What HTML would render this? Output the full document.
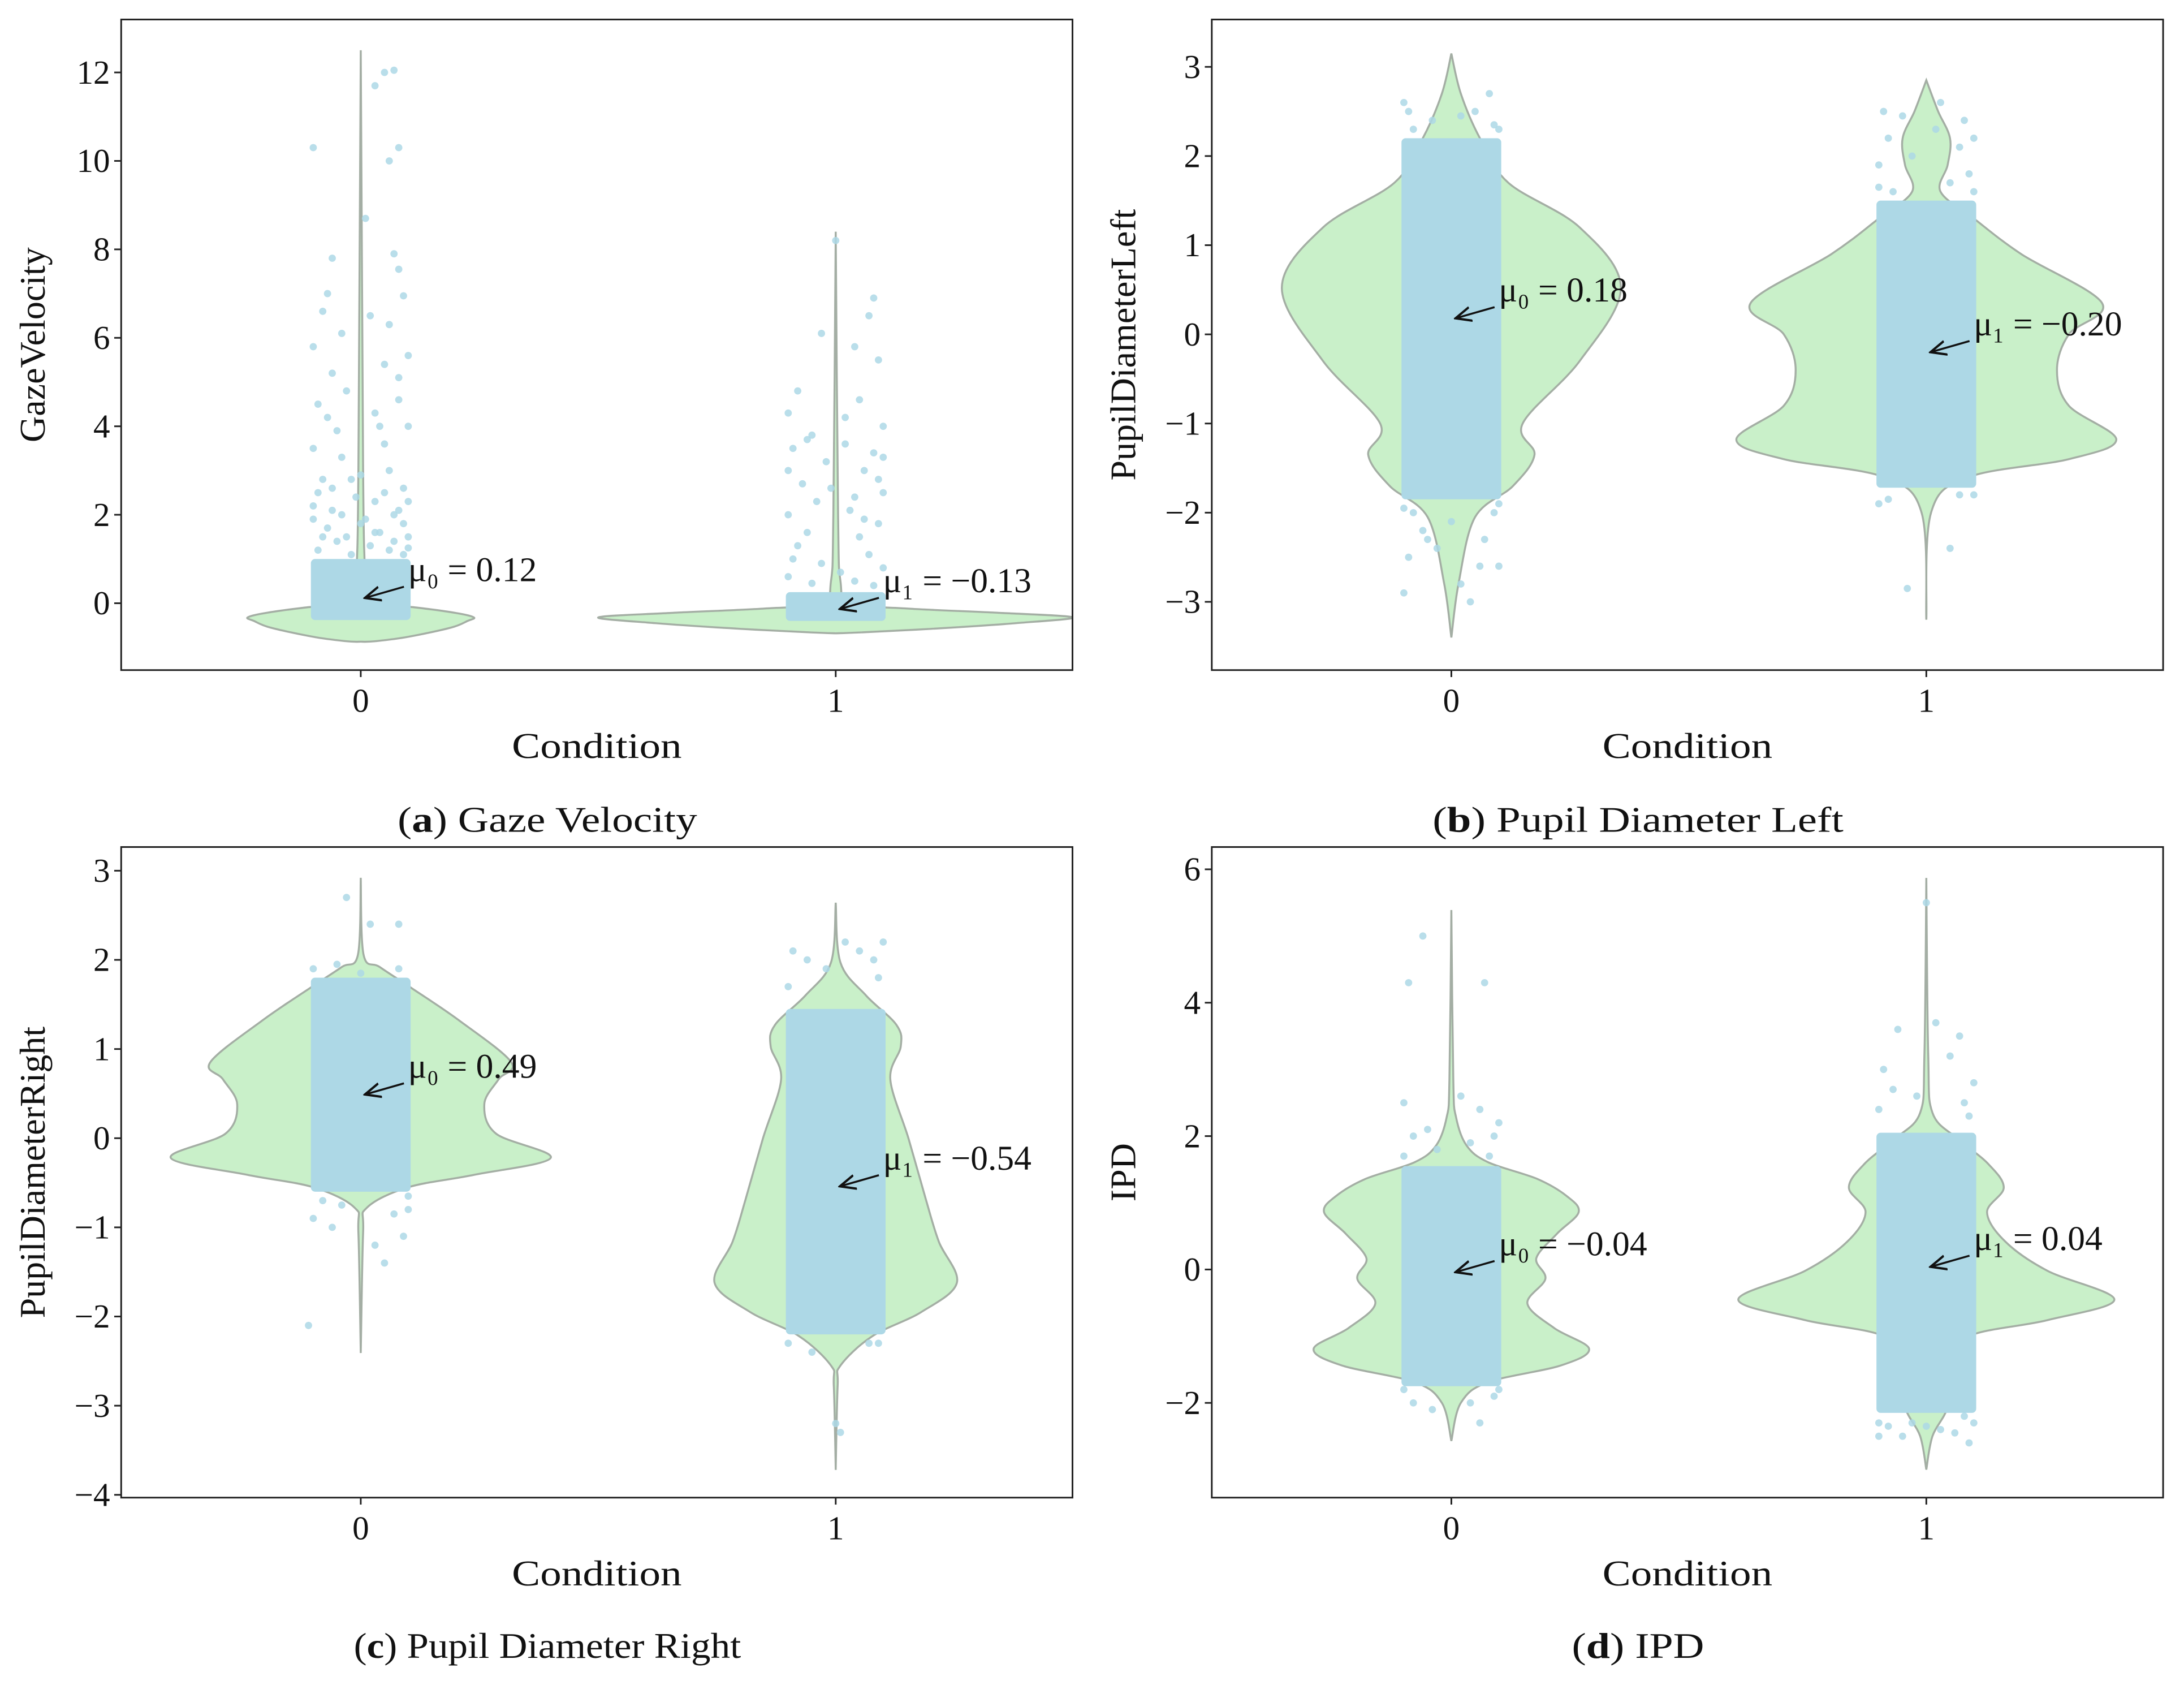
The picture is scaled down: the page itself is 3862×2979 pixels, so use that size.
<!DOCTYPE html>
<html><head><meta charset="utf-8"><style>
html,body{margin:0;padding:0;background:#fff;}
svg{display:block;font-family:"Liberation Serif",serif;}
</style></head><body>
<svg id="fig" width="3862" height="2979" viewBox="0 0 1568 1209.5" xmlns="http://www.w3.org/2000/svg"></svg>
<script>
// ---------- data ----------
const categories = ["0", "1"];
const panelNames = ["gaze-velocity", "pupil-diameter-left", "pupil-diameter-right", "ipd"];
const yLabels = ["GazeVelocity", "PupilDiameterLeft", "PupilDiameterRight", "IPD"];
const captionLetters = ["a", "b", "c", "d"];
const captionTexts = [" Gaze Velocity", " Pupil Diameter Left", " Pupil Diameter Right", " IPD"];
const yTicksA = [0, 2, 4, 6, 8, 10, 12];
const yTicksB = [-3, -2, -1, 0, 1, 2, 3];
const yTicksC = [-4, -3, -2, -1, 0, 1, 2, 3];
const yTicksD = [-2, 0, 2, 4, 6];
const meansA = [0.12, -0.13];
const meansB = [0.18, -0.20];
const meansC = [0.49, -0.54];
const meansD = [-0.04, 0.04];
// violin profiles: [value, half-width in category units]
const violinA0 = [[-0.87,0],[-0.86,0.03],[-0.76,0.1],[-0.55,0.19],[-0.4,0.225],[-0.32,0.238],[-0.22,0.2],[-0.1,0.12],[0,0.04],[0.3,0.012],[1,0.008],[3,0.005],[12.5,0]];
const violinA1 = [[-0.68,0],[-0.66,0.05],[-0.58,0.2],[-0.45,0.38],[-0.32,0.5],[-0.22,0.35],[-0.12,0.15],[0,0.03],[0.5,0.01],[2,0.005],[8.4,0]];
const violinB0 = [[-3.4,0],[-2.8,0.015],[-2.05,0.05],[-1.7,0.13],[-1.35,0.175],[-1.0,0.15],[-0.3,0.27],[0.52,0.357],[1.2,0.27],[1.7,0.12],[2.2,0.06],[2.7,0.02],[3.15,0]];
const violinB1 = [[-3.2,0],[-2.0,0.01],[-1.6,0.09],[-1.4,0.3],[-1.18,0.4],[-0.8,0.3],[-0.4,0.275],[0.0,0.3],[0.35,0.37],[0.9,0.2],[1.3,0.1],[1.6,0.03],[1.9,0.045],[2.2,0.05],[2.5,0.025],[2.85,0]];
const violinC0 = [[-2.41,0],[-1.06,0.005],[-0.78,0.013],[-0.55,0.1],[-0.41,0.24],[-0.22,0.4],[0.05,0.285],[0.38,0.26],[0.66,0.29],[0.85,0.317],[1.31,0.21],[1.69,0.105],[1.92,0.04],[2.06,0.006],[2.92,0]];
const violinC1 = [[-3.72,0],[-2.77,0.004],[-2.55,0.01],[-2.22,0.077],[-1.95,0.18],[-1.62,0.255],[-1.16,0.217],[-0.69,0.19],[0.0,0.153],[0.66,0.115],[1.03,0.137],[1.27,0.128],[1.6,0.064],[1.97,0.01],[2.64,0]];
const violinD0 = [[-2.57,0],[-2.0,0.02],[-1.69,0.077],[-1.44,0.23],[-1.19,0.29],[-0.88,0.217],[-0.51,0.16],[-0.14,0.198],[0.17,0.179],[0.54,0.223],[0.86,0.268],[1.1,0.243],[1.36,0.18],[1.61,0.077],[1.86,0.032],[2.28,0.01],[2.84,0.004],[5.39,0]];
const violinD1 = [[-3.0,0],[-2.5,0.013],[-2.07,0.045],[-1.44,0.064],[-1.0,0.09],[-0.76,0.255],[-0.45,0.396],[-0.02,0.255],[0.42,0.166],[0.86,0.128],[1.23,0.163],[1.6,0.128],[1.97,0.064],[2.35,0.013],[3.2,0.004],[5.87,0]];
// dense strip ranges [low, high]
const stripA = [[-0.38, 1.0], [-0.4, 0.25]];
const stripB = [[-1.85, 2.2], [-1.72, 1.5]];
const stripC = [[-0.6, 1.8], [-2.2, 1.45]];
const stripD = [[-1.75, 1.55], [-2.15, 2.05]];
// sparse points [jitter, value]
const pointsA0 = [[0.05,12.0],[0.03,11.7],[0.07,12.05],[-0.1,10.3],[0.08,10.3],[0.06,10.0],[0.01,8.7],[-0.06,7.8],[0.07,7.9],[0.08,7.55],[-0.07,7.0],[0.09,6.95],[0.02,6.5],[-0.08,6.6],[-0.04,6.1],[0.06,6.3],[0.1,5.6],[-0.1,5.8],[0.05,5.4],[-0.03,4.8],[0.08,4.6],[-0.09,4.5],[0.04,4.0],[-0.05,3.9],[0.1,4.0],[-0.1,3.5],[0.06,3.0],[-0.02,2.8],[0.09,2.6],[-0.08,2.8],[0.03,2.3],[-0.06,2.1],[0.07,2.0],[-0.1,2.2],[0.1,1.5],[-0.07,1.7],[0.02,1.3],[0.05,2.5],[-0.04,3.3],[0.08,5.1],[-0.06,5.2],[0.03,4.3],[-0.09,2.5],[0.1,2.3],[0.0,1.8],[-0.03,1.5],[-0.09,1.2],[0.09,1.1],[-0.05,1.4],[0.04,1.6],[0.07,1.4],[-0.02,1.1],[-0.08,1.5],[0.1,1.25],[0.0,2.9],[0.05,3.6],[-0.07,4.2],[0.08,2.1],[-0.01,2.4],[0.03,1.6],[-0.1,1.9],[0.06,1.2],[-0.04,2.0],[0.01,1.9],[-0.06,2.6],[0.09,1.8]];
const pointsA1 = [[0.0,8.2],[0.08,6.9],[0.07,6.5],[-0.03,6.1],[0.04,5.8],[0.09,5.5],[-0.08,4.8],[0.05,4.6],[-0.1,4.3],[0.1,4.0],[-0.05,3.8],[0.02,3.6],[-0.09,3.5],[0.08,3.4],[-0.02,3.2],[0.06,3.0],[-0.07,2.7],[0.1,2.5],[-0.04,2.3],[0.03,2.1],[-0.1,2.0],[0.09,1.8],[-0.06,1.6],[0.05,1.5],[-0.08,1.3],[0.07,1.1],[-0.03,0.9],[0.1,0.8],[-0.1,0.6],[0.04,0.5],[0.02,4.2],[-0.06,3.7],[0.09,2.8],[-0.01,2.6],[0.06,1.9],[-0.09,1.0],[0.08,0.4],[-0.05,0.45],[0.01,0.7],[-0.1,3.0],[0.1,3.3],[0.04,2.4]];
const pointsB0 = [[-0.1,2.6],[0.08,2.7],[0.05,2.5],[-0.08,2.3],[0.09,2.35],[-0.04,2.4],[0.02,2.45],[-0.09,2.5],[0.1,2.3],[-0.06,-2.2],[0.07,-2.3],[-0.09,-2.5],[0.02,-2.8],[-0.1,-2.9],[0.1,-2.6],[0.04,-3.0],[-0.03,-2.4],[0.09,-2.0],[-0.08,-2.0],[0.06,-2.6],[-0.1,-1.95],[0.1,-1.9],[0.0,-2.1],[-0.05,-2.3]];
const pointsB1 = [[-0.09,2.5],[0.08,2.4],[0.03,2.6],[-0.05,2.45],[0.1,2.2],[-0.08,2.2],[0.07,2.1],[-0.1,1.9],[0.09,1.8],[-0.03,2.0],[0.05,1.7],[-0.07,1.6],[0.1,1.6],[-0.1,1.65],[0.02,2.3],[-0.1,-1.9],[0.05,-2.4],[-0.04,-2.85],[0.07,-1.8],[-0.08,-1.85],[0.1,-1.8]];
const pointsC0 = [[-0.03,2.7],[0.02,2.4],[0.08,2.4],[-0.1,-0.9],[0.09,-1.1],[0.05,-1.4],[-0.06,-1.0],[0.1,-0.8],[-0.11,-2.1],[0.03,-1.2],[-0.08,-0.7],[0.07,-0.85],[-0.04,-0.75],[0.1,-0.65],[-0.1,1.9],[0.0,1.85],[0.08,1.9],[-0.05,1.95]];
const pointsC1 = [[-0.09,2.1],[0.02,2.2],[0.08,2.0],[0.1,2.2],[-0.02,1.9],[0.05,2.1],[-0.06,2.0],[0.09,1.8],[-0.1,1.7],[0.0,-3.2],[0.01,-3.3],[-0.05,-2.4],[0.07,-2.3],[-0.1,-2.3],[0.09,-2.3]];
const pointsD0 = [[-0.06,5.0],[0.07,4.3],[-0.09,4.3],[-0.1,2.5],[0.02,2.6],[0.1,2.2],[-0.05,2.1],[0.06,2.4],[-0.08,2.0],[0.09,2.0],[-0.03,1.8],[0.04,1.9],[-0.1,1.7],[0.08,1.7],[-0.08,-2.0],[0.04,-2.0],[0.09,-1.9],[-0.1,-1.8],[0.06,-2.3],[-0.04,-2.1],[0.1,-1.8]];
const pointsD1 = [[0.0,5.5],[-0.06,3.6],[0.07,3.5],[0.02,3.7],[-0.09,3.0],[0.1,2.8],[0.05,3.2],[-0.02,2.6],[-0.1,2.4],[0.08,2.5],[-0.07,2.7],[0.09,2.3],[-0.1,-2.3],[0.08,-2.2],[-0.05,-2.5],[0.03,-2.4],[0.09,-2.6],[-0.08,-2.35],[-0.1,-2.5],[0.1,-2.3],[0.06,-2.45],[-0.03,-2.3],[0.0,-2.35]];

// ---------- drawing ----------
const NS = "http://www.w3.org/2000/svg";
const svg = document.getElementById("fig");
function mk(tag, attrs, parent) {
  const e = document.createElementNS(NS, tag);
  for (const k in attrs) e.setAttribute(k, attrs[k]);
  (parent || svg).appendChild(e);
  return e;
}
function smooth(pts) {
  let d = "M" + pts[0][0].toFixed(1) + "," + pts[0][1].toFixed(1);
  for (let i = 0; i < pts.length - 1; i++) {
    const p0 = pts[Math.max(0, i - 1)], p1 = pts[i], p2 = pts[i + 1], p3 = pts[Math.min(pts.length - 1, i + 2)];
    const c1 = [p1[0] + (p2[0] - p0[0]) / 6, p1[1] + (p2[1] - p0[1]) / 6];
    const c2 = [p2[0] - (p3[0] - p1[0]) / 6, p2[1] - (p3[1] - p1[1]) / 6];
    d += " C" + c1[0].toFixed(1) + "," + c1[1].toFixed(1) + " " + c2[0].toFixed(1) + "," + c2[1].toFixed(1) + " " + p2[0].toFixed(1) + "," + p2[1].toFixed(1);
  }
  return d;
}
const panels = [
  {box:[87,14,770,481], yv:[0,433,12,52], ticks:yTicksA, means:meansA, violins:[violinA0,violinA1], strips:stripA, pts:[pointsA0,pointsA1], cap:[393,597]},
  {box:[870,14,1553,481], yv:[-3,432,3,48], ticks:yTicksB, means:meansB, violins:[violinB0,violinB1], strips:stripB, pts:[pointsB0,pointsB1], cap:[1176,597]},
  {box:[87,608,770,1075], yv:[-4,1073,3,625], ticks:yTicksC, means:meansC, violins:[violinC0,violinC1], strips:stripC, pts:[pointsC0,pointsC1], cap:[393,1190]},
  {box:[870,608,1553,1075], yv:[-2,1007,6,624], ticks:yTicksD, means:meansD, violins:[violinD0,violinD1], strips:stripD, pts:[pointsD0,pointsD1], cap:[1176,1190]}
];
const capLens = [215, 295, 278, 95];
mk("defs",{}).innerHTML='<marker id="ah" viewBox="0 0 10 10" refX="9" refY="5" markerWidth="9" markerHeight="9" orient="auto-start-reverse"><path d="M0,1 L9,5 L0,9" fill="none" stroke="#111" stroke-width="1.3"/></marker><clipPath id="c0"><rect x="87" y="14" width="683" height="467"/></clipPath><clipPath id="c1"><rect x="870" y="14" width="683" height="467"/></clipPath><clipPath id="c2"><rect x="87" y="608" width="683" height="467"/></clipPath><clipPath id="c3"><rect x="870" y="608" width="683" height="467"/></clipPath>';

panels.forEach((p, pi) => {
  const g = mk("g", {});
  
  
  const plot = mk("g", {"clip-path":"url(#c" + pi + ")"}, g);
  
  
  const [x0,y0,x1,y1] = p.box;
  const catX = [x0 + 172, x0 + 513];
  const unit = catX[1] - catX[0];
  const yS = v => p.yv[1] + (v - p.yv[0]) * (p.yv[3] - p.yv[1]) / (p.yv[2] - p.yv[0]);
  const xS = (c, j) => catX[c] + j * unit;
  p.violins.forEach((prof, c) => {
    const right = prof.map(q => [xS(c, q[1]), yS(q[0])]);
    const left = prof.slice().reverse().map(q => [xS(c, -q[1]), yS(q[0])]);
    let d = smooth(right) + " " + smooth(left).replace(/^M/, "L") + "Z";
    const v = mk("path", {d:d, fill:"#c9f0c9", stroke:"#a4aea4", "stroke-width":1.4}, plot);
    
    
  });
  p.strips.forEach((s, c) => {
    const r = mk("rect", {x:xS(c,-0.105), y:yS(s[1]), width:0.21*unit, height:yS(s[0])-yS(s[1]), fill:"#add8e6", rx:3}, plot);
    
    
  });
  p.pts.forEach((arr, c) => {
    arr.forEach(q => {
      const pt = mk("circle", {cx:xS(c,q[0]), cy:yS(q[1]), r:2.6, fill:"#add8e6", "fill-opacity":0.85}, plot);
      
      
    });
  });
  const fr = mk("rect", {x:x0, y:y0, width:x1-x0, height:y1-y0, fill:"none", stroke:"#222", "stroke-width":1.2}, g);
  
  
  p.ticks.forEach(t => {
    const y = yS(t);
    mk("line", {x1:x0-5, x2:x0, y1:y, y2:y, stroke:"#222", "stroke-width":1.2}, g);
    const tl = mk("text", {x:x0-8, y:y+8, "text-anchor":"end", "font-size":24, fill:"#111"}, g);
    tl.textContent = t < 0 ? "\u2212" + Math.abs(t) : String(t);
    
    
  });
  categories.forEach((cat, c) => {
    mk("line", {x1:catX[c], x2:catX[c], y1:y1, y2:y1+5, stroke:"#222", "stroke-width":1.2}, g);
    const tl = mk("text", {x:catX[c], y:y1+30, "text-anchor":"middle", "font-size":24, fill:"#111"}, g);
    tl.textContent = cat;
    
    
  });
  const xl = mk("text", {x:(x0+x1)/2, y:y1+63, "text-anchor":"middle", "font-size":26, fill:"#111", textLength:122, lengthAdjust:"spacingAndGlyphs"}, g);
  xl.textContent = "Condition";
  
  
  const yc = (y0+y1)/2;
  const yl = mk("text", {x:x0-55, y:yc, "text-anchor":"middle", "font-size":26, fill:"#111", transform:"rotate(-90 "+(x0-55)+" "+yc+")"}, g);
  yl.textContent = yLabels[pi];
  
  
  p.means.forEach((m, c) => {
    const tx = catX[c] + 3, ty = yS(m);
    const ar = mk("line", {x1:tx+28, y1:ty-8, x2:tx, y2:ty, stroke:"#111", "stroke-width":1.4, "marker-end":"url(#ah)"}, g);
    
    
    const mt = mk("text", {x:tx+31, y:ty-12, "font-size":25, fill:"#111"}, g);
    mt.textContent = "\u03bc" + (c === 0 ? "\u2080" : "\u2081") + " = " + (m < 0 ? "\u2212" + Math.abs(m).toFixed(2) : m.toFixed(2));
    
    
  });
  const cp = mk("text", {x:p.cap[0], y:p.cap[1], "text-anchor":"middle", "font-size":26, fill:"#111", textLength:capLens[pi], lengthAdjust:"spacingAndGlyphs"}, g);
  cp.innerHTML = '(<tspan font-weight="bold">' + captionLetters[pi] + '</tspan>)' + captionTexts[pi];
  
  
});
</script>
</body></html>
